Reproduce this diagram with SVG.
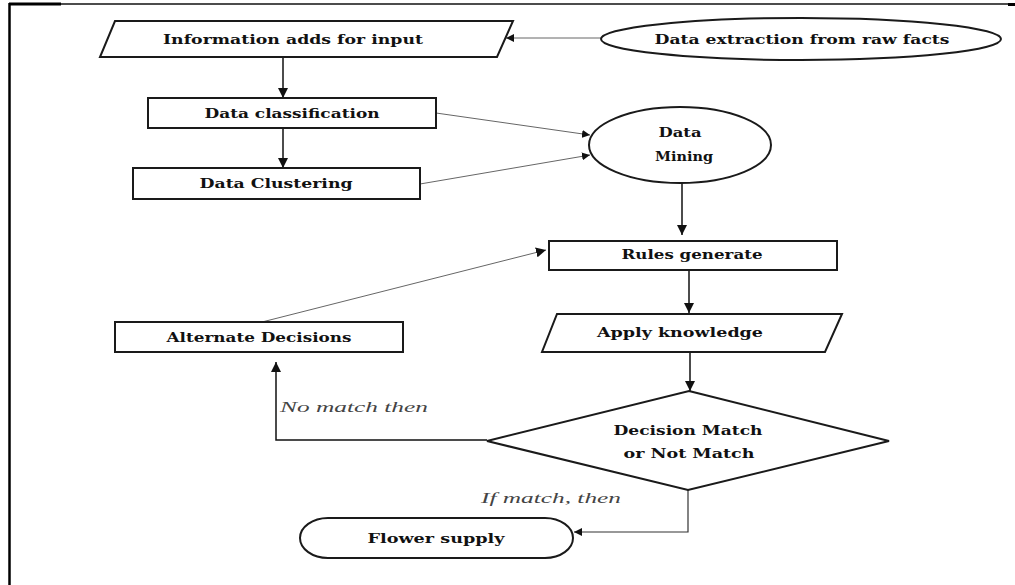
<svg xmlns="http://www.w3.org/2000/svg" width="1015" height="585" viewBox="0 0 1015 585">
<style>
.shape{fill:#fff;stroke:#1a1a1a;stroke-width:2}
.lbl{font-family:"DejaVu Serif","Liberation Serif",serif;font-weight:bold;font-size:13px;fill:#111;text-anchor:middle}
.ital{font-family:"Liberation Serif","Times New Roman",serif;font-style:italic;font-size:15px;fill:#444}
.dark{stroke:#111;stroke-width:1.5;fill:none}
.thin{stroke:#666;stroke-width:1;fill:none}
</style>
<defs>
<marker id="ah" markerUnits="userSpaceOnUse" markerWidth="11" markerHeight="10" refX="10" refY="5" orient="auto">
<path d="M0,0 L10,5 L0,10 Z" fill="#111"/>
</marker>
<marker id="ahs" markerUnits="userSpaceOnUse" markerWidth="9" markerHeight="8" refX="8" refY="4" orient="auto">
<path d="M0,0 L8,4 L0,8 Z" fill="#111"/>
</marker>
</defs>
<rect width="1015" height="585" fill="#fff"/>
<g id="frame">
<line x1="9" y1="4" x2="1012" y2="4" stroke="#111" stroke-width="1.5"/>
<line x1="9" y1="4" x2="61" y2="4" stroke="#000" stroke-width="3"/>
<line x1="1008" y1="4.5" x2="1015" y2="4.5" stroke="#000" stroke-width="3"/>
<line x1="9.5" y1="3" x2="9.5" y2="585" stroke="#000" stroke-width="2.5"/>
</g>
<g id="connectors">
<line class="thin" x1="601" y1="38" x2="506" y2="38" marker-end="url(#ahs)"/>
<line class="dark" x1="283" y1="57" x2="283" y2="98" marker-end="url(#ah)"/>
<line class="dark" x1="283" y1="128" x2="283" y2="168" marker-end="url(#ah)"/>
<line class="thin" x1="436" y1="113" x2="590" y2="135" marker-end="url(#ahs)"/>
<line class="thin" x1="420" y1="184" x2="590" y2="155" marker-end="url(#ahs)"/>
<line class="dark" x1="682" y1="183" x2="682" y2="235" marker-end="url(#ah)"/>
<line class="dark" x1="689" y1="270" x2="689" y2="313" marker-end="url(#ah)"/>
<line class="dark" x1="690" y1="352" x2="690" y2="391" marker-end="url(#ah)"/>
<line class="thin" x1="262" y1="322" x2="546" y2="250" marker-end="url(#ah)"/>
<polyline class="dark" points="487,440 276,440 276,362" marker-end="url(#ah)"/>
<polyline class="dark" style="stroke:#333;stroke-width:1.2" points="688,490 688,532 574,532" marker-end="url(#ahs)"/>
<text class="ital" x="280" y="412" textLength="148" lengthAdjust="spacingAndGlyphs">No match then</text>
<text class="ital" x="481" y="503" textLength="140" lengthAdjust="spacingAndGlyphs">If match, then</text>
</g>
<g id="n-input">
<polygon class="shape" points="115,21 513,21 497,57 100,57"/>
<text class="lbl" x="293" y="44" textLength="260" lengthAdjust="spacingAndGlyphs">Information adds for input</text>
</g>
<g id="n-extraction">
<ellipse class="shape" cx="801" cy="39" rx="200" ry="21"/>
<text class="lbl" x="802" y="44" textLength="295" lengthAdjust="spacingAndGlyphs">Data extraction from raw facts</text>
</g>
<g id="n-classification">
<rect class="shape" x="148" y="98" width="288" height="30"/>
<text class="lbl" x="292" y="118" textLength="175" lengthAdjust="spacingAndGlyphs">Data classification</text>
</g>
<g id="n-clustering">
<rect class="shape" x="133" y="168" width="287" height="31"/>
<text class="lbl" x="276" y="188" textLength="153" lengthAdjust="spacingAndGlyphs">Data Clustering</text>
</g>
<g id="n-mining">
<ellipse class="shape" cx="680" cy="145" rx="91" ry="38"/>
<text class="lbl" x="680" y="137" textLength="43" lengthAdjust="spacingAndGlyphs">Data</text>
<text class="lbl" x="684" y="161" textLength="58" lengthAdjust="spacingAndGlyphs">Mining</text>
</g>
<g id="n-rules">
<rect class="shape" x="549" y="241" width="288" height="29"/>
<text class="lbl" x="692" y="259" textLength="141" lengthAdjust="spacingAndGlyphs">Rules generate</text>
</g>
<g id="n-alternate">
<rect class="shape" x="115" y="322" width="288" height="30"/>
<text class="lbl" x="259" y="342" textLength="185" lengthAdjust="spacingAndGlyphs">Alternate Decisions</text>
</g>
<g id="n-apply">
<polygon class="shape" points="557,314 842,314 825,352 542,352"/>
<text class="lbl" x="680" y="337" textLength="166" lengthAdjust="spacingAndGlyphs">Apply knowledge</text>
</g>
<g id="n-decision">
<polygon class="shape" points="689,391 889,441 688,490 487,441"/>
<text class="lbl" x="688" y="435" textLength="149" lengthAdjust="spacingAndGlyphs">Decision Match</text>
<text class="lbl" x="689" y="458" textLength="131" lengthAdjust="spacingAndGlyphs">or Not Match</text>
</g>
<g id="n-flower">
<path class="shape" d="M328,518 L545,518 A28,20 0 0 1 545,558 L328,558 A28,20 0 0 1 328,518 Z"/>
<text class="lbl" x="436" y="543" textLength="137" lengthAdjust="spacingAndGlyphs">Flower supply</text>
</g>
</svg>
